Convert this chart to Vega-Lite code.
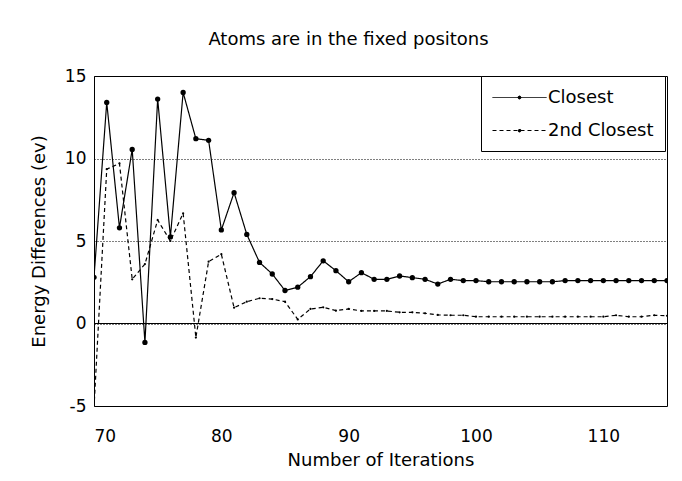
{
  "$schema": "https://vega.github.io/schema/vega-lite/v6.json",
  "width": 573,
  "height": 330,
  "autosize": {"type": "none"},
  "padding": {"left": 94, "top": 76, "right": 15, "bottom": 75},
  "background": "white",
  "title": {"text": "Atoms are in the fixed positons", "font": "DejaVu Sans", "fontSize": 18, "fontWeight": "normal", "color": "black", "offset": 18, "dx": -32, "anchor": "middle"},
  "config": {
    "view": {"stroke": "black", "strokeWidth": 1},
    "axis": {"labelFont": "DejaVu Sans", "titleFont": "DejaVu Sans", "labelFontSize": 17, "titleFontSize": 18, "titleFontWeight": "normal", "labelColor": "black", "titleColor": "black", "ticks": false, "domain": false}
  },
  "data": {"values": [
    {"it": 70, "series": "Closest", "e": 2.8}, {"it": 71, "series": "Closest", "e": 13.4}, {"it": 72, "series": "Closest", "e": 5.8},
    {"it": 73, "series": "Closest", "e": 10.55}, {"it": 74, "series": "Closest", "e": -1.15}, {"it": 75, "series": "Closest", "e": 13.6},
    {"it": 76, "series": "Closest", "e": 5.25}, {"it": 77, "series": "Closest", "e": 14.0}, {"it": 78, "series": "Closest", "e": 11.2},
    {"it": 79, "series": "Closest", "e": 11.1}, {"it": 80, "series": "Closest", "e": 5.67}, {"it": 81, "series": "Closest", "e": 7.93},
    {"it": 82, "series": "Closest", "e": 5.4}, {"it": 83, "series": "Closest", "e": 3.7}, {"it": 84, "series": "Closest", "e": 3.0},
    {"it": 85, "series": "Closest", "e": 2.0}, {"it": 86, "series": "Closest", "e": 2.2}, {"it": 87, "series": "Closest", "e": 2.84},
    {"it": 88, "series": "Closest", "e": 3.8}, {"it": 89, "series": "Closest", "e": 3.2}, {"it": 90, "series": "Closest", "e": 2.53},
    {"it": 91, "series": "Closest", "e": 3.08}, {"it": 92, "series": "Closest", "e": 2.68}, {"it": 93, "series": "Closest", "e": 2.68},
    {"it": 94, "series": "Closest", "e": 2.88}, {"it": 95, "series": "Closest", "e": 2.78}, {"it": 96, "series": "Closest", "e": 2.68},
    {"it": 97, "series": "Closest", "e": 2.39}, {"it": 98, "series": "Closest", "e": 2.68}, {"it": 99, "series": "Closest", "e": 2.6},
    {"it": 100, "series": "Closest", "e": 2.6}, {"it": 101, "series": "Closest", "e": 2.53}, {"it": 102, "series": "Closest", "e": 2.53},
    {"it": 103, "series": "Closest", "e": 2.53}, {"it": 104, "series": "Closest", "e": 2.53}, {"it": 105, "series": "Closest", "e": 2.53},
    {"it": 106, "series": "Closest", "e": 2.53}, {"it": 107, "series": "Closest", "e": 2.6}, {"it": 108, "series": "Closest", "e": 2.6},
    {"it": 109, "series": "Closest", "e": 2.6}, {"it": 110, "series": "Closest", "e": 2.6}, {"it": 111, "series": "Closest", "e": 2.6},
    {"it": 112, "series": "Closest", "e": 2.6}, {"it": 113, "series": "Closest", "e": 2.6}, {"it": 114, "series": "Closest", "e": 2.6},
    {"it": 115, "series": "Closest", "e": 2.6},
    {"it": 70, "series": "2nd Closest", "e": -5.1}, {"it": 71, "series": "2nd Closest", "e": 9.35}, {"it": 72, "series": "2nd Closest", "e": 9.7},
    {"it": 73, "series": "2nd Closest", "e": 2.68}, {"it": 74, "series": "2nd Closest", "e": 3.6}, {"it": 75, "series": "2nd Closest", "e": 6.27},
    {"it": 76, "series": "2nd Closest", "e": 5.0}, {"it": 77, "series": "2nd Closest", "e": 6.68}, {"it": 78, "series": "2nd Closest", "e": -0.85},
    {"it": 79, "series": "2nd Closest", "e": 3.75}, {"it": 80, "series": "2nd Closest", "e": 4.2}, {"it": 81, "series": "2nd Closest", "e": 0.96},
    {"it": 82, "series": "2nd Closest", "e": 1.32}, {"it": 83, "series": "2nd Closest", "e": 1.53}, {"it": 84, "series": "2nd Closest", "e": 1.48},
    {"it": 85, "series": "2nd Closest", "e": 1.32}, {"it": 86, "series": "2nd Closest", "e": 0.25}, {"it": 87, "series": "2nd Closest", "e": 0.88},
    {"it": 88, "series": "2nd Closest", "e": 0.98}, {"it": 89, "series": "2nd Closest", "e": 0.78}, {"it": 90, "series": "2nd Closest", "e": 0.88},
    {"it": 91, "series": "2nd Closest", "e": 0.76}, {"it": 92, "series": "2nd Closest", "e": 0.76}, {"it": 93, "series": "2nd Closest", "e": 0.76},
    {"it": 94, "series": "2nd Closest", "e": 0.68}, {"it": 95, "series": "2nd Closest", "e": 0.68}, {"it": 96, "series": "2nd Closest", "e": 0.62},
    {"it": 97, "series": "2nd Closest", "e": 0.52}, {"it": 98, "series": "2nd Closest", "e": 0.5}, {"it": 99, "series": "2nd Closest", "e": 0.5},
    {"it": 100, "series": "2nd Closest", "e": 0.41}, {"it": 101, "series": "2nd Closest", "e": 0.41}, {"it": 102, "series": "2nd Closest", "e": 0.41},
    {"it": 103, "series": "2nd Closest", "e": 0.41}, {"it": 104, "series": "2nd Closest", "e": 0.41}, {"it": 105, "series": "2nd Closest", "e": 0.41},
    {"it": 106, "series": "2nd Closest", "e": 0.41}, {"it": 107, "series": "2nd Closest", "e": 0.41}, {"it": 108, "series": "2nd Closest", "e": 0.41},
    {"it": 109, "series": "2nd Closest", "e": 0.41}, {"it": 110, "series": "2nd Closest", "e": 0.41}, {"it": 111, "series": "2nd Closest", "e": 0.5},
    {"it": 112, "series": "2nd Closest", "e": 0.41}, {"it": 113, "series": "2nd Closest", "e": 0.41}, {"it": 114, "series": "2nd Closest", "e": 0.5},
    {"it": 115, "series": "2nd Closest", "e": 0.47}
  ]},
  "layer": [
    {
      "mark": {"type": "rule", "color": "black", "strokeWidth": 1},
      "encoding": {"y": {"datum": 0, "type": "quantitative"}}
    },
    {
      "mark": {"type": "line", "color": "black", "strokeWidth": 1.2, "clip": true},
      "encoding": {
        "x": {"field": "it", "type": "quantitative", "scale": {"domain": [70, 115], "nice": false, "zero": false},
              "axis": {"values": [70, 80, 90, 100, 110], "grid": false, "title": "Number of Iterations", "labelPadding": 22, "titlePadding": 7}},
        "y": {"field": "e", "type": "quantitative", "scale": {"domain": [-5, 15], "nice": false},
              "axis": {"values": [-5, 0, 5, 10, 15], "labelExpr": "'' + datum.value", "grid": true, "gridColor": "black", "gridDash": [1, 2], "gridWidth": 1, "title": "Energy Differences (ev)", "labelPadding": 8, "titlePadding": 16}},
        "strokeDash": {"field": "series", "type": "nominal",
          "scale": {"domain": ["Closest", "2nd Closest"], "range": [[1, 0], [4, 3]]},
          "legend": {"title": null, "orient": "none", "legendX": 387, "legendY": 0, "strokeColor": "black", "fillColor": "white", "padding": 11,
                     "symbolType": "M-2.7,0H2.7M0.15,0A0.15,0.15,0,1,1,-0.15,0A0.15,0.15,0,1,1,0.15,0", "symbolSize": 400, "symbolOffset": 17, "symbolStrokeColor": "black", "symbolFillColor": "black", "symbolStrokeWidth": 1,
                     "labelFont": "DejaVu Sans", "labelFontSize": 18, "labelColor": "black", "labelOffset": 18, "rowPadding": 13}}
      }
    },
    {
      "transform": [{"filter": "datum.series === 'Closest'"}],
      "mark": {"type": "point", "filled": true, "color": "black", "opacity": 1, "size": 28, "clip": true},
      "encoding": {
        "x": {"field": "it", "type": "quantitative"},
        "y": {"field": "e", "type": "quantitative"}
      }
    },
    {
      "transform": [{"filter": "datum.series === '2nd Closest'"}],
      "mark": {"type": "point", "filled": true, "color": "black", "opacity": 1, "size": 5, "clip": true},
      "encoding": {
        "x": {"field": "it", "type": "quantitative"},
        "y": {"field": "e", "type": "quantitative"}
      }
    }
  ]
}
